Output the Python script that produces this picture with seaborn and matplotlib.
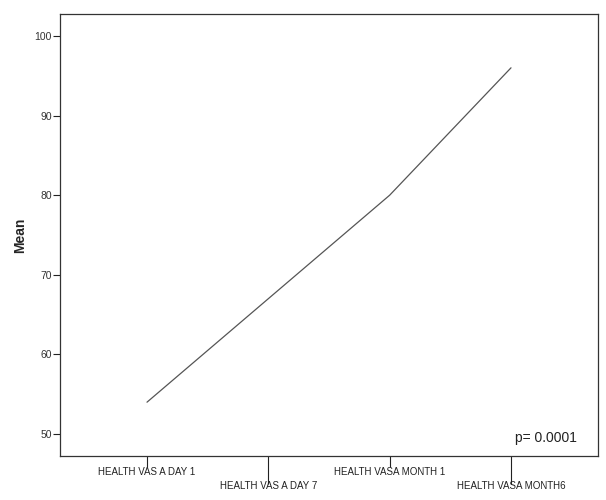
import matplotlib
matplotlib.use('Agg')
import matplotlib.pyplot as plt
import seaborn as sns
import pandas as pd

# Dados
tempos = ['HEALTH VAS A DAY 1', 'HEALTH VAS A DAY 7', 'HEALTH VASA MONTH 1', 'HEALTH VASA MONTH6']
medias = [54.0, 67.0, 80.0, 96.0]
yticks = [50, 60, 70, 80, 90, 100]

sns.set_style('white')
plt.rcParams['font.family'] = ['Liberation Sans', 'DejaVu Sans']

df = pd.DataFrame({'pos': range(len(tempos)), 'Mean': medias})

fig = plt.figure(figsize=(6.06, 5.0), dpi=100)
ax = fig.add_axes([60/606, 44/500, 538/606, 442/500])
sns.lineplot(data=df, x='pos', y='Mean', ax=ax, color='#555555', linewidth=0.9)

ax.set_xlim(-0.717, 3.717)
ax.set_ylim(47.24, 102.76)
ax.set_yticks(yticks)
ax.set_yticklabels([str(v) for v in yticks], fontsize=7.5, color='#333333')

# ticks curtos nas posições pares, longos nas ímpares
ax.set_xticks([0, 2])
ax.set_xticks([1, 3], minor=True)
ax.set_xticklabels([])
ax.set_xticklabels([], minor=True)
ax.tick_params(axis='y', direction='out', length=5, width=0.8, color='#222222', left=True, pad=1)
ax.tick_params(axis='x', which='major', direction='out', length=8, width=0.8, color='#222222', bottom=True)
ax.tick_params(axis='x', which='minor', direction='out', length=20, width=0.8, color='#222222', bottom=True)

# rótulos do eixo x alternados
for i, t in enumerate(tempos):
    dy = -0.026 if i % 2 == 0 else -0.056
    ax.text(i, dy, t, transform=ax.get_xaxis_transform(), ha='center', va='top',
            fontsize=7, color='#222222')

for s in ax.spines.values():
    s.set_color('#333333')
    s.set_linewidth(0.9)

ax.set_xlabel('')
ax.set_ylabel('Mean', fontsize=10, fontweight='bold', labelpad=5)
ax.text(0.96, 0.025, 'p= 0.0001', transform=ax.transAxes, ha='right', va='bottom',
        fontsize=10, color='#222222')

fig.savefig('out.png', dpi=100)
